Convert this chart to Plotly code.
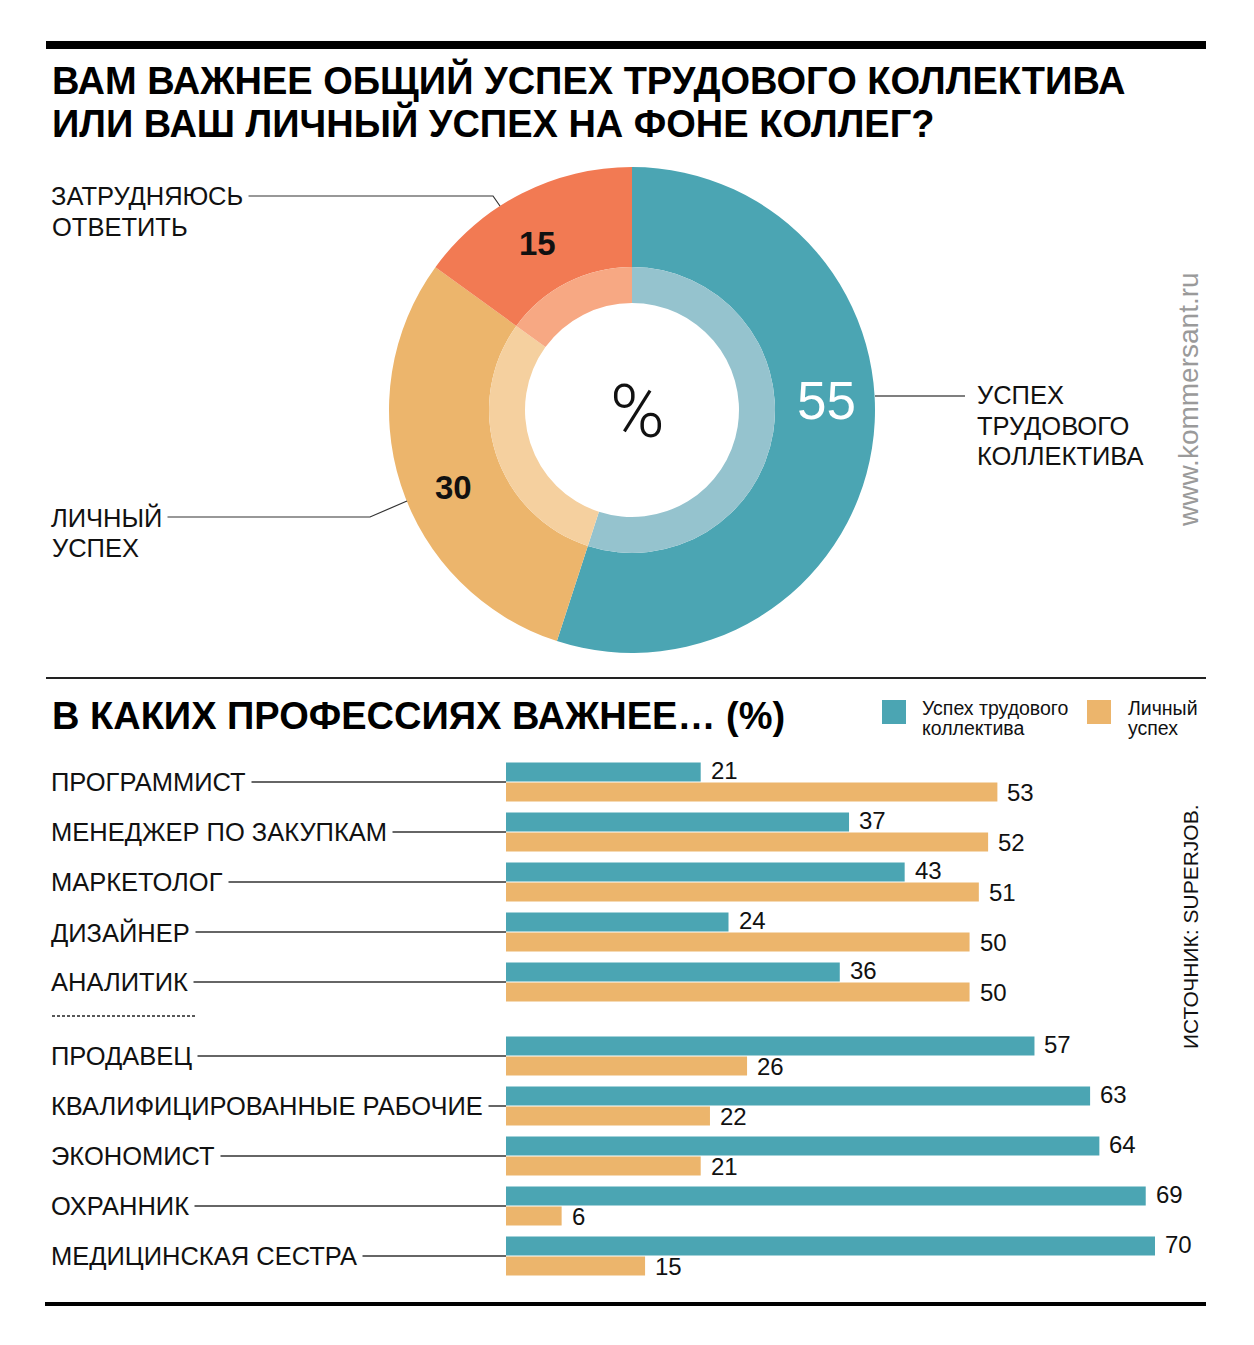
import plotly.graph_objects as go

W, H = 1254, 1345
OFF = 8                 # default page margin of the html body
FW, FH = W - 2 * OFF, H - 2 * OFF

# ---------------- data ----------------
pie_labels = ["Успех трудового коллектива", "Личный успех", "Затрудняюсь ответить"]
pie_values = [55, 30, 15]
pie_colors = ["#4BA5B3", "#ECB56C", "#F27A53"]
pie_colors_light = ["#95C3CE", "#F5D09F", "#F7A883"]

professions = ["ПРОГРАММИСТ", "МЕНЕДЖЕР ПО ЗАКУПКАМ", "МАРКЕТОЛОГ", "ДИЗАЙНЕР", "АНАЛИТИК",
               "ПРОДАВЕЦ", "КВАЛИФИЦИРОВАННЫЕ РАБОЧИЕ", "ЭКОНОМИСТ", "ОХРАННИК",
               "МЕДИЦИНСКАЯ СЕСТРА"]
team_success = [21, 37, 43, 24, 36, 57, 63, 64, 69, 70]
personal_success = [53, 52, 51, 50, 50, 26, 22, 21, 6, 15]
series_names = ["Успех трудового коллектива", "Личный успех"]
legend_lines = [["Успех трудового", "коллектива"], ["Личный", "успех"]]

title_lines = ["ВАМ ВАЖНЕЕ ОБЩИЙ УСПЕХ ТРУДОВОГО КОЛЛЕКТИВА", "ИЛИ ВАШ ЛИЧНЫЙ УСПЕХ НА ФОНЕ КОЛЛЕГ?"]
subtitle = "В КАКИХ ПРОФЕССИЯХ ВАЖНЕЕ… (%)"
callout_hard = ["ЗАТРУДНЯЮСЬ", "ОТВЕТИТЬ"]
callout_personal = ["ЛИЧНЫЙ", "УСПЕХ"]
callout_team = ["УСПЕХ", "ТРУДОВОГО", "КОЛЛЕКТИВА"]

FONT = "Liberation Sans, Arial, Helvetica, sans-serif"
TEAL, YELLOW = pie_colors[0], pie_colors[1]


def px(x):
    return (x - OFF) / FW


def py(y):
    return 1 - (y - OFF) / FH


def txt(x, y, text, size, color="#111", xanchor="left", bg=None, angle=0, family=FONT, weight=None, pad=5):
    d = dict(x=px(x), y=py(y), xref="paper", yref="paper", showarrow=False, xanchor=xanchor,
             yanchor="middle", text=text, textangle=angle, align="left",
             font=dict(family=family, size=size, color=color))
    if weight is not None:
        d["font"]["weight"] = weight
    if bg:
        d["bgcolor"] = bg
        d["borderpad"] = pad
    return d


fig = go.Figure()

# ---------------- donut ----------------
cx, cy, r_out, r_mid, r_in = 632, 410, 243, 143, 107
fig.add_trace(go.Pie(
    labels=pie_labels, values=pie_values, sort=False, direction="clockwise", rotation=0,
    hole=r_mid / r_out, marker=dict(colors=pie_colors, line=dict(width=0)),
    textinfo="none", hoverinfo="label+value", showlegend=False,
    domain=dict(x=[px(cx - r_out), px(cx + r_out)], y=[py(cy + r_out), py(cy - r_out)]),
))
fig.add_trace(go.Pie(
    labels=pie_labels, values=pie_values, sort=False, direction="clockwise", rotation=0,
    hole=r_in / r_mid, marker=dict(colors=pie_colors_light, line=dict(width=0)),
    textinfo="none", hoverinfo="label+value", showlegend=False,
    domain=dict(x=[px(cx - r_mid), px(cx + r_mid)], y=[py(cy + r_mid), py(cy - r_mid)]),
))

# ---------------- bars ----------------
GAP = 0.48
ypos = [i + (GAP if i >= 5 else 0) for i in range(len(professions))]

fig.add_trace(go.Bar(
    y=ypos, x=team_success, orientation="h", name=series_names[0],
    marker=dict(color=TEAL, line=dict(width=0)), showlegend=False,
    xaxis="x", yaxis="y", hovertext=professions, hoverinfo="text+x",
))
fig.add_trace(go.Bar(
    y=ypos, x=personal_success, orientation="h", name=series_names[1],
    marker=dict(color=YELLOW, line=dict(width=0)), showlegend=False,
    xaxis="x", yaxis="y", hovertext=professions, hoverinfo="text+x",
))

row0_px = 782
pitch = 50
y_top_px = row0_px - pitch / 2
y_bot_px = row0_px + (ypos[-1] + 0.5) * pitch
x0_px, x70_px = 506, 1155

shapes = []
annotations = []

for i, p in enumerate(ypos):
    annotations.append(dict(x=team_success[i], y=p - 0.2, xref="x", yref="y", text=str(team_success[i]),
                            showarrow=False, xanchor="left", yanchor="middle", xshift=8, yshift=2,
                            font=dict(family=FONT, size=24, color="#111")))
    annotations.append(dict(x=personal_success[i], y=p + 0.2, xref="x", yref="y", text=str(personal_success[i]),
                            showarrow=False, xanchor="left", yanchor="middle", xshift=8, yshift=0,
                            font=dict(family=FONT, size=24, color="#111")))
    shapes.append(dict(type="line", xref="paper", yref="y", x0=px(120), x1=px(x0_px), y0=p, y1=p,
                       line=dict(color="#666", width=2)))
    annotations.append(dict(x=px(50), y=p, xref="paper", yref="y", text=professions[i], showarrow=False,
                            xanchor="left", yanchor="middle", bgcolor="white", borderpad=5, xshift=-5,
                            font=dict(family=FONT, size=25.5, color="#111")))

# dashed separator between groups
shapes.append(dict(type="line", xref="paper", yref="paper", x0=px(52), x1=px(196), y0=py(1016), y1=py(1016),
                   line=dict(color="#222", width=1.3, dash="3px,2px")))

# frame lines
shapes.append(dict(type="rect", xref="paper", yref="paper", x0=px(46), x1=px(1206), y0=py(49), y1=py(41),
                   fillcolor="black", line=dict(width=0)))
shapes.append(dict(type="line", xref="paper", yref="paper", x0=px(46), x1=px(1206), y0=py(678), y1=py(678),
                   line=dict(color="#222", width=2)))
shapes.append(dict(type="rect", xref="paper", yref="paper", x0=px(45), x1=px(1206), y0=py(1306), y1=py(1302),
                   fillcolor="black", line=dict(width=0)))

# donut callout lines
callout = dict(color="#333", width=1.2)
shapes.append(dict(type="path", xref="paper", yref="paper",
                   path=f"M {px(120)},{py(196)} L {px(493)},{py(196)} L {px(500)},{py(206)}", line=callout))
shapes.append(dict(type="path", xref="paper", yref="paper",
                   path=f"M {px(120)},{py(517)} L {px(370)},{py(517)} L {px(407)},{py(501)}", line=callout))
shapes.append(dict(type="line", xref="paper", yref="paper", x0=px(875), x1=px(965), y0=py(396), y1=py(396),
                   line=dict(color="#555", width=1.5)))

# legend squares
shapes.append(dict(type="rect", xref="paper", yref="paper", x0=px(882), x1=px(906), y0=py(724), y1=py(700),
                   fillcolor=TEAL, line=dict(width=0)))
shapes.append(dict(type="rect", xref="paper", yref="paper", x0=px(1087), x1=px(1111), y0=py(724), y1=py(700),
                   fillcolor=YELLOW, line=dict(width=0)))

# ---------------- texts ----------------
annotations += [
    txt(50, 80, f"<b>{title_lines[0]}</b>", 38, color="black"),
    txt(50, 123, f"<b>{title_lines[1]}</b>", 38, color="black"),
    txt(50, 716, f"<b>{subtitle}</b>", 38, color="black"),
    txt(45, 196, callout_hard[0], 25.5, bg="white"),
    txt(50, 227, callout_hard[1], 25.5),
    txt(45, 517, callout_personal[0], 25.5, bg="white"),
    txt(50, 548, callout_personal[1], 25.5),
    txt(975, 395, callout_team[0], 25.5),
    txt(975, 425.5, callout_team[1], 25.5),
    txt(975, 456, callout_team[2], 25.5),
    txt(537, 243, f"<b>{pie_values[2]}</b>", 33, xanchor="center"),
    txt(453, 488, f"<b>{pie_values[1]}</b>", 33, xanchor="center"),
    txt(826, 400, f"{pie_values[0]}", 53, color="white", xanchor="center"),
    txt(637, 412, "%", 74, xanchor="center", family="Roboto, Liberation Sans, sans-serif", weight=300),
    txt(1188, 400, "www.kommersant.ru", 28, color="#9a9a9a", xanchor="center", angle=-90),
    txt(1190, 927, "ИСТОЧНИК: SUPERJOB.", 21, xanchor="center", angle=-90),
    txt(920, 708, legend_lines[0][0], 19.5),
    txt(920, 728, legend_lines[0][1], 19.5),
    txt(1126, 708, legend_lines[1][0], 19.5),
    txt(1126, 728, legend_lines[1][1], 19.5),
]

fig.update_layout(
    width=FW, height=FH, margin=dict(l=0, r=0, t=0, b=0),
    paper_bgcolor="white", plot_bgcolor="white",
    barmode="group", bargap=0.2, bargroupgap=0.05,
    xaxis=dict(domain=[px(x0_px), px(x70_px)], range=[0, 70], visible=False, fixedrange=True),
    yaxis=dict(domain=[py(y_bot_px), py(y_top_px)], range=[ypos[-1] + 0.5, -0.5], visible=False,
               fixedrange=True),
    shapes=shapes, annotations=annotations,
    font=dict(family=FONT),
)

fig.write_html("out.html")
